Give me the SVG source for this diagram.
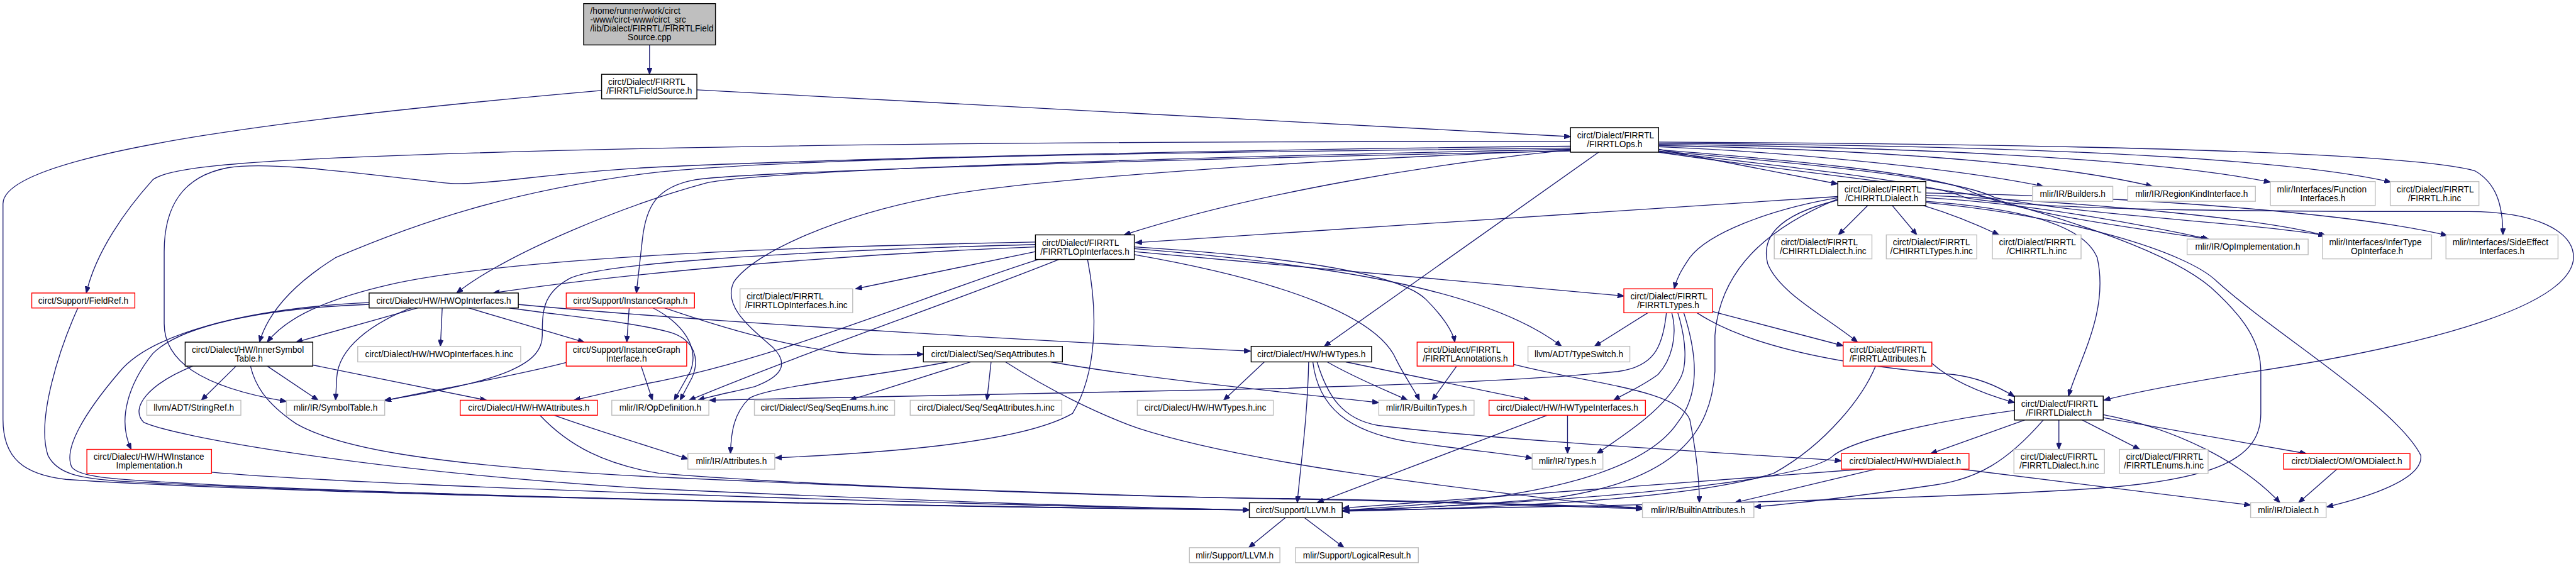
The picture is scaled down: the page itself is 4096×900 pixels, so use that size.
<svg xmlns="http://www.w3.org/2000/svg" width="4096" height="900" viewBox="0 0 4096 900">
<style>
text{font-family:"Liberation Sans",Arial,Helvetica,sans-serif;font-size:14.4px;fill:#000}
.m{text-anchor:middle}
rect{fill:#fff;stroke-width:1.5}
.k{stroke:#000}.g{stroke:#bfbfbf}.r{stroke:#f00}
rect.root{fill:#bfbfbf;stroke:#000}
#edges path{fill:none;stroke:#191970;stroke-width:1.4;marker-end:url(#a)}
</style>
<defs>
<marker id="a" viewBox="0 0 10 8" refX="10" refY="4" markerWidth="11" markerHeight="8.5" markerUnits="userSpaceOnUse" orient="auto"><path d="M0,0 L10,4 L0,8 z" fill="#191970" stroke="#191970"/></marker>
</defs>
<rect x="0" y="0" width="4096" height="900" fill="#fff" stroke="none"/>
<g transform="scale(0.952779)">
<g id="edges">
<path d="M1084,75 L1084,124"/>
<path d="M1163,150 L2621,228"/>
<path d="M1004,151 C560,190 5,250 5,340 L5,700 C5,765 40,792 110,800 C420,822 1500,846 2085,851"/>
<path d="M2768,249 L3067,307"/>
<path d="M2768,245 C2950,252 3250,278 3410,311"/>
<path d="M2768,243 C3050,248 3400,265 3592,311"/>
<path d="M2768,241 C3150,245 3580,262 3789,304"/>
<path d="M2768,239 C3250,242 3780,256 3990,304"/>
<path d="M2768,237 C3350,240 4000,250 4130,285 C4165,305 4177,340 4177,392"/>
<path d="M2768,250 C3000,268 3230,290 3290,320 C3380,360 3600,385 3684,399"/>
<path d="M2768,252 C3000,272 3260,295 3330,330 C3480,360 3760,372 3880,393"/>
<path d="M2768,253 C3000,280 3230,305 3280,330 C3400,352 3800,353 4120,353 C4230,353 4295,385 4295,430 C4290,520 4000,585 3750,622 C3640,640 3560,655 3511,668"/>
<path d="M2768,254 C2980,285 3180,305 3320,330 C3460,370 3620,420 3690,480 C3745,530 3773,570 3773,620 L3773,690 C3773,765 3700,800 3500,815 C3200,835 2600,846 2241,852"/>
<path d="M2621,250 C2400,272 2100,320 1876,392"/>
<path d="M2668,254 L2210,578"/>
<path d="M2621,236 C2000,236 1200,238 600,262 C400,270 280,280 255,300 C210,350 160,420 144,489"/>
<path d="M2621,244 C2000,250 1300,268 1075,280 C900,290 800,312 740,305 C600,290 450,268 380,280 C300,295 274,350 274,420 L274,540 C274,600 330,645 478,670"/>
<path d="M2621,247 C2000,254 1300,262 1075,290 C850,320 700,370 560,430 C480,480 445,530 433,571"/>
<path d="M2621,249 C2000,262 1300,282 1180,305 C1050,340 850,420 762,489"/>
<path d="M2621,252 C2000,265 1260,285 1160,300 C1095,312 1078,345 1072,400 L1062,489"/>
<path d="M2621,251 C2200,265 1700,300 1555,330 C1400,360 1260,420 1225,470 C1205,510 1250,545 1290,580 C1320,610 1300,630 1260,645 C1220,655 1190,660 1165,668"/>
<path d="M1109,514 C1200,545 1300,575 1400,588 C1460,594 1510,592 1541,591"/>
<path d="M1050,514 L1046,571"/>
<path d="M1090,514 C1140,540 1168,580 1152,620 L1125,668"/>
<path d="M850,514 C950,528 1060,538 1120,555 C1160,568 1168,600 1155,630 L1135,668"/>
<path d="M1728,420 L1428,482"/>
<path d="M1728,404 C1300,412 850,430 650,475 C520,505 470,540 446,571"/>
<path d="M1728,408 C1300,420 1000,440 950,465 C905,490 905,520 905,560 C905,605 850,635 642,668"/>
<path d="M1728,412 C1400,425 1050,455 823,489"/>
<path d="M1893,412 C2100,425 2330,450 2380,500 C2410,530 2425,555 2428,571"/>
<path d="M1893,415 C2200,440 2480,480 2606,578"/>
<path d="M1893,420 L2710,494"/>
<path d="M1893,425 C2150,470 2300,530 2330,600 C2345,630 2360,650 2369,668"/>
<path d="M1815,433 C1832,520 1832,620 1790,690 C1700,742 1450,757 1294,764"/>
<path d="M1767,433 C1600,500 1350,585 1150,668"/>
<path d="M1733,433 C1550,490 1300,600 1075,641 L958,668"/>
<path d="M3067,328 L1895,405"/>
<path d="M3117,343 L3068,392"/>
<path d="M3158,343 L3199,392"/>
<path d="M3210,343 C3260,358 3300,375 3336,392"/>
<path d="M3214,330 C3400,340 3600,380 3686,399"/>
<path d="M3214,326 C3500,338 3800,368 3882,394"/>
<path d="M3214,322 C3600,328 3950,360 4084,393"/>
<path d="M3067,330 C2950,350 2850,390 2820,430 C2805,452 2798,465 2794,482"/>
<path d="M3067,334 C2960,360 2940,400 2950,440 C2970,490 3050,530 3100,571"/>
<path d="M3067,332 C2950,380 2870,450 2862,560 L2862,620 C2855,720 2800,800 2600,830 C2450,845 2300,850 2241,853"/>
<path d="M3214,336 C3400,350 3480,382 3500,430 C3520,520 3470,600 3452,661"/>
<path d="M3214,338 C3450,360 3650,420 3700,470 C3800,560 4000,680 4040,760 C4045,800 3950,830 3883,846"/>
<path d="M2750,522 L2661,578"/>
<path d="M2858,520 L3076,577"/>
<path d="M2832,522 C2950,600 3200,620 3260,625 C3300,630 3335,645 3362,662"/>
<path d="M2781,522 C2775,580 2760,612 2700,620 C2500,640 2200,645 2150,648 L1184,668"/>
<path d="M2790,522 C2800,560 2790,600 2767,625 C2740,645 2715,655 2693,668"/>
<path d="M2800,522 C2815,570 2815,610 2805,630 C2780,680 2720,720 2665,757"/>
<path d="M2810,522 C2835,600 2835,660 2800,705 C2750,780 2600,822 2400,840 L2241,852"/>
<path d="M3224,606 C3245,625 3285,650 3362,672"/>
<path d="M3130,611 C3110,660 3050,740 2960,790 C2800,840 2400,850 2241,853"/>
<path d="M3379,701 L3222,757"/>
<path d="M3362,685 C3250,700 3100,730 3060,760 C3020,800 2700,835 2241,852"/>
<path d="M3410,701 C3350,770 3300,800 3225,810 C3100,828 3000,840 2928,846"/>
<path d="M3436,701 L3436,750"/>
<path d="M3475,701 L3571,750"/>
<path d="M3510,697 L3849,757"/>
<path d="M3510,692 C3630,715 3740,770 3805,839"/>
<path d="M3273,783 L3756,843"/>
<path d="M3110,783 L2241,848"/>
<path d="M3130,783 L2895,839"/>
<path d="M3900,783 L3836,839"/>
<path d="M2110,604 L2042,668"/>
<path d="M2184,604 C2182,700 2170,780 2165,839"/>
<path d="M2191,604 C2200,680 2250,720 2350,737 C2450,752 2520,757 2557,765"/>
<path d="M2198,604 C2215,660 2240,700 2300,710 C2500,735 2900,757 3073,769"/>
<path d="M2215,604 C2260,630 2310,650 2349,668"/>
<path d="M2246,604 L2554,668"/>
<path d="M2582,693 L2198,839"/>
<path d="M2616,693 L2616,757"/>
<path d="M2431,611 L2390,668"/>
<path d="M2526,608 C2650,640 2800,650 2820,700 C2832,760 2836,800 2836,839"/>
<path d="M1582,604 C1450,630 1280,645 1250,665 C1225,690 1220,720 1219,757"/>
<path d="M1620,604 L1418,668"/>
<path d="M1654,604 L1647,668"/>
<path d="M1678,604 C1750,650 1830,690 1900,715 C2100,780 2500,822 2741,850"/>
<path d="M1754,604 C1900,630 2100,650 2301,672"/>
<path d="M945,605 C850,630 700,655 642,669"/>
<path d="M1070,611 L1089,668"/>
<path d="M697,514 L494,571"/>
<path d="M738,514 L735,578"/>
<path d="M782,514 L975,571"/>
<path d="M864,508 C1200,540 1800,572 2087,586"/>
<path d="M686,514 C620,540 565,580 562,630 L560,668"/>
<path d="M616,505 C400,515 250,560 200,620 C140,690 105,750 120,780 C135,798 200,800 300,806 C700,828 1500,845 2085,851"/>
<path d="M616,508 C430,515 300,545 255,590 C215,640 195,700 219,750"/>
<path d="M130,514 C100,580 60,700 80,760 C95,790 130,798 200,803 C600,825 1500,845 2085,851"/>
<path d="M353,788 C600,810 1500,840 2085,851"/>
<path d="M394,611 L336,668"/>
<path d="M446,611 L531,668"/>
<path d="M521,609 L812,668"/>
<path d="M322,611 C250,640 215,680 240,705 C290,728 600,785 1075,815 C1500,835 1900,848 2085,851"/>
<path d="M418,611 C425,640 440,670 494,707 C560,745 700,775 1075,795 C1500,815 1900,830 2150,832 C2400,836 2600,844 2741,847"/>
<path d="M925,693 C1000,720 1100,750 1148,766"/>
<path d="M901,693 C950,745 1010,775 1100,790 C1400,815 2000,830 2150,833 C2400,837 2600,845 2741,849"/>
<path d="M2145,864 L2084,914"/>
<path d="M2177,864 L2243,914"/>
</g>
<g id="n_root"><rect class="root" x="974" y="6" width="220" height="69"/><text x="985" y="23.5">/home/runner/work/circt</text><text x="985" y="38.2">-www/circt-www/circt_src</text><text x="985" y="52.9">/lib/Dialect/FIRRTL/FIRRTLField</text><text class="m" x="1084" y="67.6">Source.cpp</text></g>
<g id="n_fs"><rect class="k" x="1004" y="124" width="159" height="41"/><text x="1015" y="142.2">circt/Dialect/FIRRTL</text><text class="m" x="1083.5" y="156.9">/FIRRTLFieldSource.h</text></g>
<g id="n_ops"><rect class="k" x="2621" y="213" width="147" height="41"/><text x="2632" y="231.2">circt/Dialect/FIRRTL</text><text class="m" x="2694.5" y="245.9">/FIRRTLOps.h</text></g>
<g id="n_cd"><rect class="k" x="3067" y="303" width="147" height="40"/><text x="3078" y="320.7">circt/Dialect/FIRRTL</text><text class="m" x="3140.5" y="335.4">/CHIRRTLDialect.h</text></g>
<g id="n_builders"><rect class="g" x="3392" y="311" width="134" height="25"/><text class="m" x="3459" y="328.5">mlir/IR/Builders.h</text></g>
<g id="n_regionkind"><rect class="g" x="3551" y="311" width="213" height="25"/><text class="m" x="3657.5" y="328.5">mlir/IR/RegionKindInterface.h</text></g>
<g id="n_funcif"><rect class="g" x="3789" y="303" width="175" height="40"/><text x="3800" y="320.7">mlir/Interfaces/Function</text><text class="m" x="3876.5" y="335.4">Interfaces.h</text></g>
<g id="n_firrtlinc"><rect class="g" x="3989" y="303" width="148" height="40"/><text x="4000" y="320.7">circt/Dialect/FIRRTL</text><text class="m" x="4063" y="335.4">/FIRRTL.h.inc</text></g>
<g id="n_foi"><rect class="k" x="1728" y="392" width="165" height="41"/><text x="1739" y="410.2">circt/Dialect/FIRRTL</text><text class="m" x="1810.5" y="424.9">/FIRRTLOpInterfaces.h</text></g>
<g id="n_cdinc"><rect class="g" x="2961" y="392" width="163" height="40"/><text x="2972" y="409.7">circt/Dialect/FIRRTL</text><text class="m" x="3042.5" y="424.4">/CHIRRTLDialect.h.inc</text></g>
<g id="n_ctinc"><rect class="g" x="3148" y="392" width="151" height="40"/><text x="3159" y="409.7">circt/Dialect/FIRRTL</text><text class="m" x="3223.5" y="424.4">/CHIRRTLTypes.h.inc</text></g>
<g id="n_chirrtlinc"><rect class="g" x="3325" y="392" width="148" height="40"/><text x="3336" y="409.7">circt/Dialect/FIRRTL</text><text class="m" x="3399" y="424.4">/CHIRRTL.h.inc</text></g>
<g id="n_opimpl"><rect class="g" x="3650" y="399" width="202" height="26"/><text class="m" x="3751" y="417">mlir/IR/OpImplementation.h</text></g>
<g id="n_infer"><rect class="g" x="3876" y="392" width="182" height="40"/><text x="3887" y="409.7">mlir/Interfaces/InferType</text><text class="m" x="3967" y="424.4">OpInterface.h</text></g>
<g id="n_sideeff"><rect class="g" x="4082" y="392" width="187" height="40"/><text x="4093" y="409.7">mlir/Interfaces/SideEffect</text><text class="m" x="4175.5" y="424.4">Interfaces.h</text></g>
<g id="n_fieldref"><rect class="r" x="53" y="489" width="172" height="25"/><text class="m" x="139" y="506.5">circt/Support/FieldRef.h</text></g>
<g id="n_hoi"><rect class="k" x="616" y="489" width="249" height="25"/><text class="m" x="740.5" y="506.5">circt/Dialect/HW/HWOpInterfaces.h</text></g>
<g id="n_ig"><rect class="r" x="945" y="489" width="214" height="25"/><text class="m" x="1052" y="506.5">circt/Support/InstanceGraph.h</text></g>
<g id="n_foiinc"><rect class="g" x="1235" y="482" width="188" height="40"/><text x="1246" y="499.7">circt/Dialect/FIRRTL</text><text class="m" x="1329" y="514.4">/FIRRTLOpInterfaces.h.inc</text></g>
<g id="n_ft"><rect class="r" x="2710" y="482" width="148" height="40"/><text x="2721" y="499.7">circt/Dialect/FIRRTL</text><text class="m" x="2784" y="514.4">/FIRRTLTypes.h</text></g>
<g id="n_ist"><rect class="k" x="309" y="571" width="213" height="40"/><text x="320" y="588.7">circt/Dialect/HW/InnerSymbol</text><text class="m" x="415.5" y="603.4">Table.h</text></g>
<g id="n_hoiinc"><rect class="g" x="597" y="578" width="272" height="26"/><text class="m" x="733" y="596">circt/Dialect/HW/HWOpInterfaces.h.inc</text></g>
<g id="n_igi"><rect class="r" x="945" y="571" width="201" height="40"/><text x="956" y="588.7">circt/Support/InstanceGraph</text><text class="m" x="1045.5" y="603.4">Interface.h</text></g>
<g id="n_seqattr"><rect class="k" x="1541" y="578" width="232" height="26"/><text class="m" x="1657" y="596">circt/Dialect/Seq/SeqAttributes.h</text></g>
<g id="n_hwtypes"><rect class="k" x="2088" y="578" width="201" height="26"/><text class="m" x="2188.5" y="596">circt/Dialect/HW/HWTypes.h</text></g>
<g id="n_fann"><rect class="r" x="2365" y="571" width="161" height="40"/><text x="2376" y="588.7">circt/Dialect/FIRRTL</text><text class="m" x="2445.5" y="603.4">/FIRRTLAnnotations.h</text></g>
<g id="n_typeswitch"><rect class="g" x="2550" y="578" width="170" height="26"/><text class="m" x="2635" y="596">llvm/ADT/TypeSwitch.h</text></g>
<g id="n_fattr"><rect class="r" x="3076" y="571" width="148" height="40"/><text x="3087" y="588.7">circt/Dialect/FIRRTL</text><text class="m" x="3150" y="603.4">/FIRRTLAttributes.h</text></g>
<g id="n_stringref"><rect class="g" x="245" y="668" width="157" height="25"/><text class="m" x="323.5" y="685.5">llvm/ADT/StringRef.h</text></g>
<g id="n_symtab"><rect class="g" x="478" y="668" width="164" height="25"/><text class="m" x="560" y="685.5">mlir/IR/SymbolTable.h</text></g>
<g id="n_hwattr"><rect class="r" x="768" y="668" width="229" height="25"/><text class="m" x="882.5" y="685.5">circt/Dialect/HW/HWAttributes.h</text></g>
<g id="n_opdef"><rect class="g" x="1021" y="668" width="162" height="25"/><text class="m" x="1102" y="685.5">mlir/IR/OpDefinition.h</text></g>
<g id="n_seqenums"><rect class="g" x="1259" y="668" width="234" height="25"/><text class="m" x="1376" y="685.5">circt/Dialect/Seq/SeqEnums.h.inc</text></g>
<g id="n_seqattrinc"><rect class="g" x="1519" y="668" width="253" height="25"/><text class="m" x="1645.5" y="685.5">circt/Dialect/Seq/SeqAttributes.h.inc</text></g>
<g id="n_hwtypesinc"><rect class="g" x="1898" y="668" width="227" height="25"/><text class="m" x="2011.5" y="685.5">circt/Dialect/HW/HWTypes.h.inc</text></g>
<g id="n_builtintypes"><rect class="g" x="2301" y="668" width="159" height="25"/><text class="m" x="2380.5" y="685.5">mlir/IR/BuiltinTypes.h</text></g>
<g id="n_hwtypeif"><rect class="r" x="2485" y="668" width="261" height="25"/><text class="m" x="2615.5" y="685.5">circt/Dialect/HW/HWTypeInterfaces.h</text></g>
<g id="n_fd"><rect class="k" x="3362" y="661" width="148" height="40"/><text x="3373" y="678.7">circt/Dialect/FIRRTL</text><text class="m" x="3436" y="693.4">/FIRRTLDialect.h</text></g>
<g id="n_hwinst"><rect class="r" x="145" y="750" width="208" height="40"/><text x="156" y="767.7">circt/Dialect/HW/HWInstance</text><text class="m" x="249" y="782.4">Implementation.h</text></g>
<g id="n_attributes"><rect class="g" x="1148" y="757" width="145" height="26"/><text class="m" x="1220.5" y="775">mlir/IR/Attributes.h</text></g>
<g id="n_types"><rect class="g" x="2557" y="757" width="118" height="26"/><text class="m" x="2616" y="775">mlir/IR/Types.h</text></g>
<g id="n_hwdialect"><rect class="r" x="3073" y="757" width="213" height="26"/><text class="m" x="3179.5" y="775">circt/Dialect/HW/HWDialect.h</text></g>
<g id="n_fdinc"><rect class="g" x="3361" y="750" width="151" height="40"/><text x="3372" y="767.7">circt/Dialect/FIRRTL</text><text class="m" x="3436.5" y="782.4">/FIRRTLDialect.h.inc</text></g>
<g id="n_fenumsinc"><rect class="g" x="3537" y="750" width="148" height="40"/><text x="3548" y="767.7">circt/Dialect/FIRRTL</text><text class="m" x="3611" y="782.4">/FIRRTLEnums.h.inc</text></g>
<g id="n_om"><rect class="r" x="3811" y="757" width="211" height="26"/><text class="m" x="3916.5" y="775">circt/Dialect/OM/OMDialect.h</text></g>
<g id="n_llvm"><rect class="k" x="2085" y="839" width="155" height="25"/><text class="m" x="2162.5" y="856.5">circt/Support/LLVM.h</text></g>
<g id="n_builtinattr"><rect class="g" x="2741" y="839" width="186" height="25"/><text class="m" x="2834" y="856.5">mlir/IR/BuiltinAttributes.h</text></g>
<g id="n_dialect"><rect class="g" x="3756" y="839" width="126" height="25"/><text class="m" x="3819" y="856.5">mlir/IR/Dialect.h</text></g>
<g id="n_mlirllvm"><rect class="g" x="1985" y="914" width="151" height="25"/><text class="m" x="2060.5" y="931.5">mlir/Support/LLVM.h</text></g>
<g id="n_logicalres"><rect class="g" x="2162" y="914" width="205" height="25"/><text class="m" x="2264.5" y="931.5">mlir/Support/LogicalResult.h</text></g>
</g>
</svg>
